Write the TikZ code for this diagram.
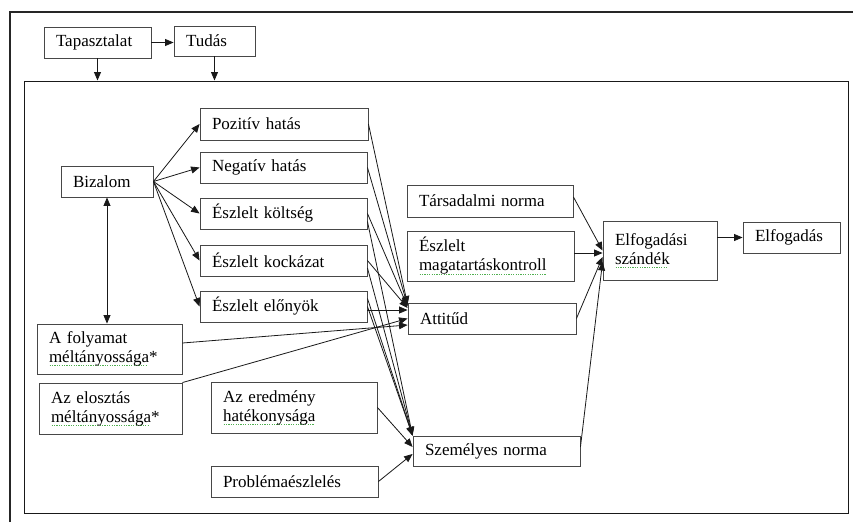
\documentclass[tikz,border=0pt]{standalone}
\usepackage{fontspec}
\setmainfont{Liberation Serif}
\usetikzlibrary{arrows.meta,calc}
\definecolor{spellgreen}{RGB}{80,175,80}
\newsavebox\gsqbox
\newcommand\gsq[1]{\leavevmode\sbox\gsqbox{#1}\rlap{\raisebox{-3.6pt}{\color{spellgreen}\leaders\hbox to 2.4pt{\hss\rule{1.1pt}{1pt}\hss}\hskip\wd\gsqbox}}\usebox\gsqbox}
\begin{document}
\begin{tikzpicture}[x=1pt,y=-1pt,
  bx/.style={draw=black!72, line width=0.9pt, inner xsep=12pt, inner ysep=0pt, align=left,
             font=\fontsize{17}{19}\selectfont},
  ar/.style={line width=0.8pt, draw=black!90, -{Triangle[length=8.5pt,width=7pt]}},
  biar/.style={line width=0.8pt, draw=black!90, {Triangle[length=8.5pt,width=7pt]}-{Triangle[length=8.5pt,width=7pt]}},
]
\useasboundingbox (0,0) rectangle (853,522);
\fill[white] (0,0) rectangle (853,522);
\draw[line width=2.6pt, black!85] (10,522) -- (10,12) -- (853,12);
\node[draw=black!90, line width=1pt, minimum width=824pt, minimum height=432pt, inner sep=0pt] (frame) at (436,297) {};

% boxes
\node[bx, text width=83pt, minimum height=31pt] (tap) at (97.5,42.5) {Tapasztalat};
\node[bx, text width=57pt, minimum height=30pt] (tud) at (214.5,41) {Tudás};
\node[bx, text width=68pt, minimum height=31pt] (biz) at (107,181.5) {Bizalom};
\node[bx, text width=144pt, minimum height=32pt] (poz) at (284,124) {Pozitív hatás};
\node[bx, text width=143pt, minimum height=31pt] (neg) at (283.5,167.5) {Negatív hatás};
\node[bx, text width=143pt, minimum height=31pt] (kolt) at (283.5,213.5) {Észlelt költség};
\node[bx, text width=143pt, minimum height=31pt] (kock) at (283.5,260.5) {Észlelt kockázat};
\node[bx, text width=143pt, minimum height=31pt] (elo) at (283.5,306.5) {Észlelt előnyök};
\node[bx, text width=121pt, minimum height=50pt] (fol) at (109.5,349) {A folyamat\\\gsq{méltányossága}*};
\node[bx, text width=119pt, minimum height=51pt] (elosz) at (110.5,408.5) {Az elosztás\\\gsq{méltányossága}*};
\node[bx, text width=142pt, minimum height=51pt] (ered) at (294,407.5) {Az eredmény\\\gsq{hatékonysága}};
\node[bx, text width=143pt, minimum height=31pt] (prob) at (294.5,481.5) {Problémaészlelés};
\node[bx, text width=142pt, minimum height=32pt] (tars) at (490,201) {Társadalmi norma};
\node[bx, text width=143pt, minimum height=50pt] (mag) at (490.5,256) {Észlelt\\\gsq{magatartáskontroll}};
\node[bx, text width=144pt, minimum height=31pt] (att) at (492,318.5) {Attitűd};
\node[bx, text width=143pt, minimum height=30pt] (szem) at (496.5,451) {Személyes norma};
\node[bx, text width=90pt, minimum height=59pt] (szand) at (660,250.5) {Elfogadási\\\gsq{szándék}};
\node[bx, text width=73pt, minimum height=31pt] (elf) at (791.5,237.5) {Elfogadás};

% top
\draw[ar] (tap.east) -- (tap.east -| tud.west);
\draw[ar] (tap.south) -- (tap.south |- frame.north);
\draw[ar] (tud.south) -- (tud.south |- frame.north);

% Bizalom
\foreach \t in {poz,neg,kolt,kock,elo} \draw[ar] (biz.east) -- (\t.west);
\draw[biar] (biz.south) -- (biz.south |- fol.north);

% to Attitud
\draw[ar] (poz.east) -- ([yshift=14pt]att.west);
\draw[ar] (neg.east) -- ([yshift=13pt]att.west);
\draw[ar] (kolt.east) -- ([yshift=12pt]att.west);
\draw[ar] (kock.east) -- ([yshift=10.5pt]att.west);
\draw[ar] ([yshift=-3.5pt]elo.east) -- ([yshift=8.5pt]att.west);
\draw[ar] ([yshift=6pt]fol.east) -- ([yshift=-6.5pt]att.west);
\draw[ar] (elosz.north east) -- (att.west);

% to Szemelyes norma
\draw[ar] ([yshift=-8pt]kolt.east) -- (szem.north west);
\draw[ar] ([yshift=-7.5pt]kock.east) -- (szem.north west);
\draw[ar] ([yshift=8pt]elo.east) -- (szem.north west);
\draw[ar] (elo.east) -- (szem.north west);
\draw[ar] (ered.east) -- ([yshift=4pt]szem.west);
\draw[ar] (prob.east) -- ([yshift=-3pt]szem.west);

% to Elfogadasi szandek
\draw[ar] ([yshift=4pt]tars.east) -- (szand.west);
\draw[ar] ([yshift=3pt]mag.east) -- ([yshift=-2.5pt]szand.west);
\draw[ar] (att.east) -- ([yshift=-6.5pt]szand.west);
\draw[ar] ([yshift=4pt]szem.east) -- ([yshift=-11.5pt]szand.west);
\draw[ar] (szand.east |- elf.west) -- (elf.west);
\end{tikzpicture}
\end{document}
